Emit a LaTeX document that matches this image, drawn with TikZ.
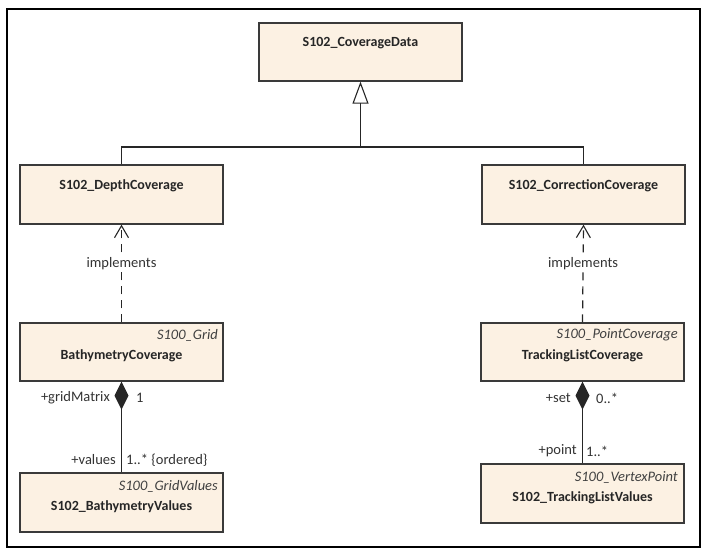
\documentclass[tikz,border=0pt]{standalone}
\usepackage{fontspec}
\setmainfont{Carlito}
\usetikzlibrary{arrows.meta}
\definecolor{boxfill}{HTML}{FCF1E3}
\definecolor{boxline}{HTML}{3A3A3A}
\begin{document}
\begin{tikzpicture}[x=1pt,y=-1pt,
  cls/.style={draw=boxline, fill=boxfill, line width=1.3pt, inner sep=0pt, minimum width=203pt},
  nm/.style={font=\fontsize{14}{16}\selectfont\bfseries, text=black!85, inner sep=0pt},
  st/.style={font=\fontsize{14.5}{16}\selectfont\itshape, text=black!75, inner sep=0pt, anchor=east},
  lbl/.style={font=\fontsize{14.5}{16}\selectfont, text=black!80, inner sep=1pt},
  conn/.style={draw=black!85, line width=1.2pt}
]
\useasboundingbox (0,0) rectangle (707,554);
\draw[line width=1.3pt] (7,9) rectangle (700,547);

% classes
\node[cls, minimum height=58pt] (cd) at (360.5,52) {};
\node[nm] (cdT) at (360.5,43) {S102\_CoverageData};

\node[cls, minimum height=59pt] (dc) at (121.5,194.5) {};
\node[nm] (dcT) at (121.5,186) {S102\_DepthCoverage};

\node[cls, minimum height=59pt] (cc) at (583.5,194.5) {};
\node[nm] (ccT) at (583.5,186) {S102\_CorrectionCoverage};

\node[cls, minimum height=58pt] (bc) at (121.5,352) {};
\node[st] (bcS) at (218,335) {S100\_Grid};
\node[nm] (bcT) at (121.5,356) {BathymetryCoverage};

\node[cls, minimum height=58pt] (tc) at (582.5,352) {};
\node[st] (tcS) at (678,335) {S100\_PointCoverage};
\node[nm] (tcT) at (582.5,356) {TrackingListCoverage};

\node[cls, minimum height=59pt] (bv) at (121.5,502.5) {};
\node[st] (bvS) at (218,486) {S100\_GridValues};
\node[nm] (bvT) at (121.5,507) {S102\_BathymetryValues};

\node[cls, minimum height=59pt] (tv) at (582.5,493.5) {};
\node[st] (tvS) at (678,477) {S100\_VertexPoint};
\node[nm] (tvT) at (582.5,498) {S102\_TrackingListValues};

% generalization
\coordinate (jn) at (360.5,147);
\draw[conn] (dc.north) |- (jn) -| (cc.north);
\draw[conn, -{Triangle[open, length=22pt, width=16pt, line width=1.1pt]}] (jn) -- (cd.south);

% realizations
\draw[conn, dash pattern=on 8pt off 6pt, -{Straight Barb[length=12pt, width=14pt, line width=1.1pt]}]
  (bc.north) -- node[lbl, fill=white, pos=0.6] (im1) {implements} (dc.south);
\draw[conn, dash pattern=on 8pt off 6pt, -{Straight Barb[length=12pt, width=14pt, line width=1.1pt]}]
  (tc.north) -- node[lbl, fill=white, pos=0.6] (im2) {implements} (cc.south);

% compositions
\draw[conn, {Diamond[length=28pt, width=14pt]}-] (bc.south) -- (bv.north);
\draw[conn, {Diamond[length=28pt, width=14pt]}-] (tc.south) -- (tv.north);

\node[lbl, anchor=east] (l1) at (111,398) {+gridMatrix};
\node[lbl, anchor=west] (l2) at (135,398) {1};
\node[lbl, anchor=east] (l3) at (117,460) {+values};
\node[lbl, anchor=west] (l4) at (125,460) {1..* \{ordered\}};

\node[lbl, anchor=east] (r1) at (572,398) {+set};
\node[lbl, anchor=west] (r2) at (595,398) {0..*};
\node[lbl, anchor=east] (r3) at (578,451) {+point};
\node[lbl, anchor=west] (r4) at (585,451) {1..*};
\end{tikzpicture}
\end{document}
